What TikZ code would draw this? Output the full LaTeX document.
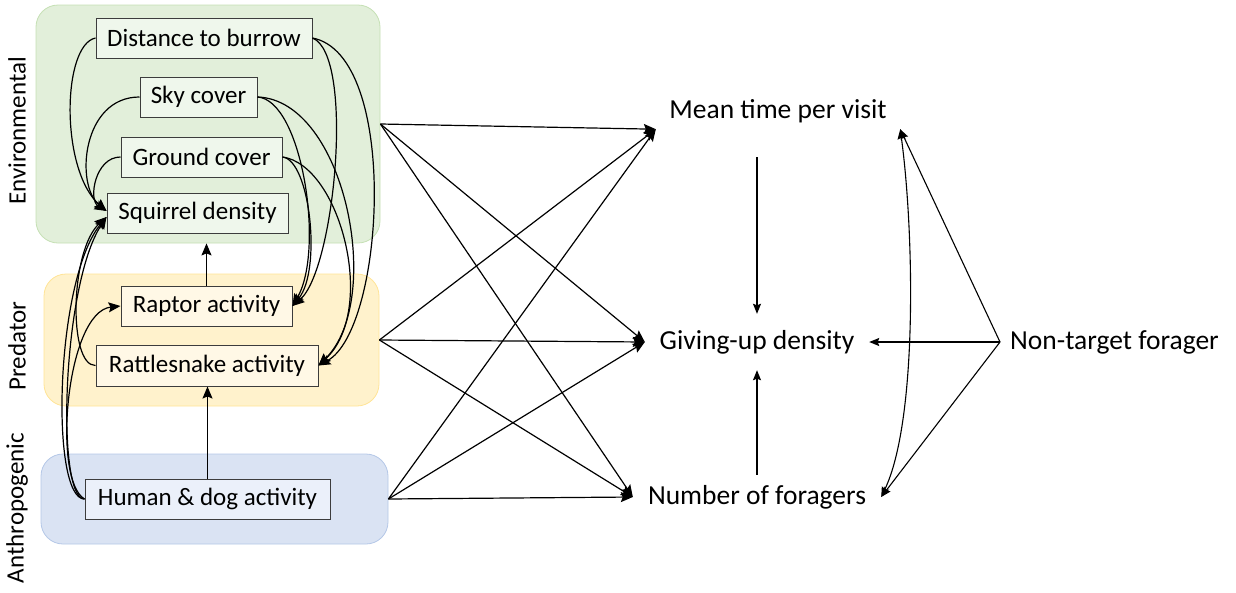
\documentclass[tikz,border=0pt]{standalone}
\usepackage{fontspec}
\setmainfont{Carlito}
\usetikzlibrary{arrows.meta}
\definecolor{envfill}{RGB}{226,239,218}
\definecolor{envline}{RGB}{197,224,180}
\definecolor{envbox}{RGB}{239,247,236}
\definecolor{predfill}{RGB}{255,242,204}
\definecolor{predline}{RGB}{255,228,150}
\definecolor{predbox}{RGB}{255,248,230}
\definecolor{anthfill}{RGB}{218,227,243}
\definecolor{anthline}{RGB}{180,199,231}
\definecolor{anthbox}{RGB}{235,240,250}
\definecolor{boxline}{RGB}{60,60,60}
\tikzset{
  grp/.style={draw, rounded corners=22pt, line width=0.8pt, inner sep=0pt},
  var/.style={draw=boxline, line width=1pt, inner sep=0pt, minimum height=40pt,
    font=\fontsize{25}{30}\selectfont},
  outc/.style={inner sep=0pt, font=\fontsize{27.5}{33}\selectfont},
  grplabel/.style={rotate=90, font=\fontsize{25}{30}\selectfont},
  lnk/.style={line width=1.2pt, -{Stealth[length=12pt,width=10pt,inset=2pt]}},
  lnks/.style={line width=1.1pt, -{Stealth[length=10pt,width=8pt,inset=1.5pt]}},
  cov/.style={line width=1.1pt, {Stealth[length=10pt,width=8pt,inset=1.5pt]}-{Stealth[length=10pt,width=8pt,inset=1.5pt]}}
}
\begin{document}
\begin{tikzpicture}[x=1pt,y=-1pt]
\useasboundingbox (0,0) rectangle (1236,592);

% groups of explanatory variables
\node[grp, draw=envline, fill=envfill, minimum width=344pt, minimum height=238pt] (env) at (208,124) {};
\node[grp, draw=predline, fill=predfill, minimum width=335pt, minimum height=132pt] (pred) at (211.5,340) {};
\node[grp, draw=anthline, fill=anthfill, minimum width=347pt, minimum height=90pt] (anth) at (214.5,499) {};

\node[grplabel] (envlab) at (17,131) {Environmental};
\node[grplabel] (predlab) at (17,346) {Predator};
\node[grplabel] (anthlab) at (17,508) {Anthropogenic};

% explanatory variables
\node[var, fill=envbox, minimum width=216pt] (dist) at (204,38) {Distance to burrow};
\node[var, fill=envbox, minimum width=117pt] (sky) at (198.5,97) {Sky cover};
\node[var, fill=envbox, minimum width=161pt] (ground) at (201.5,157) {Ground cover};
\node[var, fill=envbox, minimum width=181pt] (sq) at (197.5,213) {Squirrel density};
\node[var, fill=predbox, minimum width=171pt] (raptor) at (206.5,306) {Raptor activity};
\node[var, fill=predbox, minimum width=222pt, minimum height=41pt] (rattle) at (207,365.5) {Rattlesnake activity};
\node[var, fill=anthbox, minimum width=245pt] (human) at (207.5,499) {Human \& dog activity};

% responses
\node[outc, minimum width=244pt, minimum height=36pt] (mean) at (778,111) {Mean time per visit};
\node[outc, minimum width=224pt, minimum height=56pt] (gud) at (757,342) {Giving-up density};
\node[outc, minimum width=248pt, minimum height=44pt] (nf) at (757,497) {Number of foragers};
\node[outc, anchor=west, inner xsep=10pt] (ntf) at (1000,342) {Non-target forager};

% environmental links into squirrel density
\draw[lnk] (dist.west) .. controls (62,45) and (60,170) .. ([yshift=2pt]sq.west);
\draw[lnk] (sky.west) .. controls (82,97) and (75,185) .. ([yshift=2pt]sq.west);
\draw[lnk] (ground.west) .. controls (95,157) and (88,200) .. ([yshift=2pt]sq.west);
\draw[lnk] (rattle.west) .. controls (68,366) and (70,250) .. ([yshift=-4pt]sq.west);
\draw[lnk] (human.west) .. controls (50,499) and (55,280) .. ([yshift=-4pt]sq.west);
\draw[lnk] (human.west) .. controls (56,499) and (62,285) .. ([yshift=-4pt]sq.west);
\draw[lnk] (human.west) .. controls (52,480) and (66,312) .. (raptor.west);

% environmental links into predators
\draw[lnk] (dist.east) .. controls (355,55) and (335,270) .. (raptor.east);
\draw[lnk] (sky.east) .. controls (302,100) and (325,250) .. (raptor.east);
\draw[lnk] (ground.east) .. controls (310,160) and (322,270) .. (raptor.east);
\draw[lnk] (dist.east) .. controls (400,55) and (385,330) .. (rattle.east);
\draw[lnk] (sky.east) .. controls (345,100) and (385,300) .. (rattle.east);
\draw[lnk] (ground.east) .. controls (340,165) and (378,310) .. (rattle.east);

\draw[lnk] (raptor.north) -- (raptor.north |- env.south);
\draw[lnk] (human.north) -- (human.north |- rattle.south);

% group effects on the responses
\foreach \g in {env,pred,anth}{
  \draw[lnk] (\g.east) -- (mean.south west);
  \draw[lnk] (\g.east) -- (gud.west);
  \draw[lnk] (\g.east) -- (nf.west);
}

% links among responses
\draw[lnks, shorten <=28pt] (gud.north |- mean.south) -- (gud.north);
\draw[lnks] (nf.north) -- (gud.south);
\draw[lnks] (ntf.west) -- (gud.east);
\draw[lnks] (ntf.west) -- (mean.south east);
\draw[lnks] (ntf.west) -- (nf.east);
\draw[cov] (mean.south east) .. controls (914,230) and (918,420) .. (nf.east);
\end{tikzpicture}
\end{document}
